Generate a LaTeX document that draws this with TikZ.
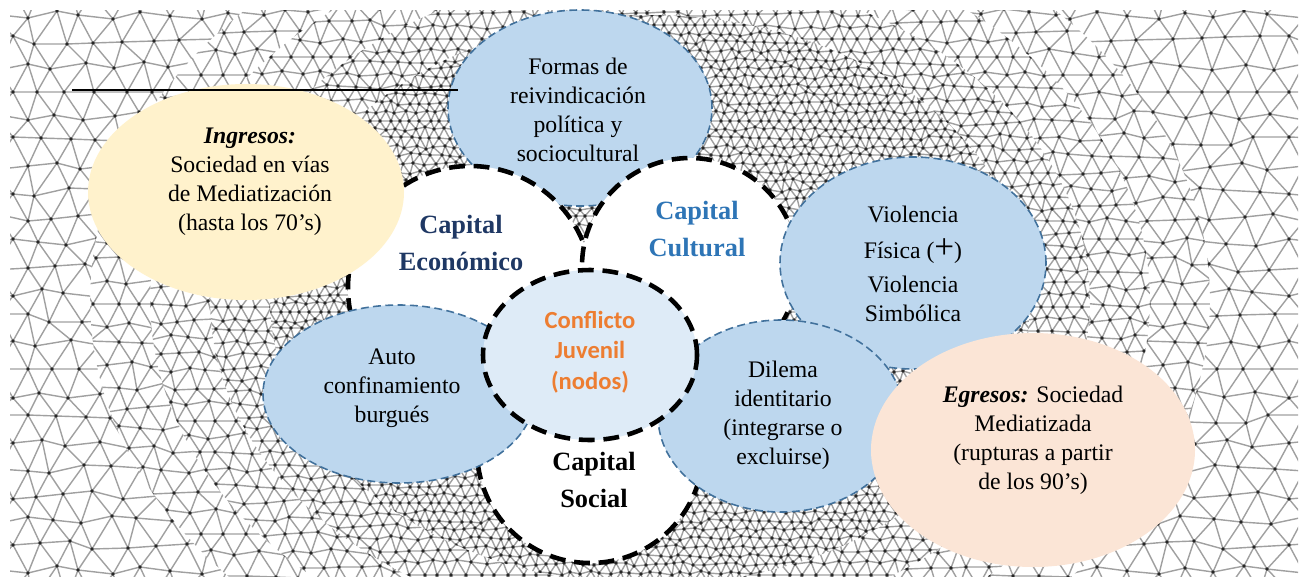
\documentclass[tikz,border=0pt]{standalone}
\usepackage{fontspec}
\setmainfont{Liberation Serif}
\newfontfamily\calibri{Carlito}
\usetikzlibrary{shapes.geometric}

\definecolor{blobblue}{HTML}{BDD7EE}
\definecolor{blobedge}{HTML}{41719C}
\definecolor{corefill}{HTML}{DEEBF7}
\definecolor{ingfill}{HTML}{FFF2CC}
\definecolor{egrfill}{HTML}{FBE5D6}
\definecolor{econblue}{HTML}{1F3864}
\definecolor{cultblue}{HTML}{2E75B6}
\definecolor{nodeorange}{HTML}{ED7D31}
\definecolor{meshgray}{HTML}{A0A0A0}

% jittered triangular mesh, integer arithmetic only (pixel units)
\newif\ifmeshvis
\newcommand\meshrand[1]{((#1)-((#1)-5)/11*11)}
% vertex hidden if well inside one of the bubbles
\newcommand\meshin[4]{%
  \ifnum\numexpr((\meshx-#1)*100/#3)*((\meshx-#1)*100/#3)+((\meshy-#2)*100/#4)*((\meshy-#2)*100/#4)\relax<8800 \meshvisfalse\fi}
\newcommand\meshvertex[2]{%
  \edef\mi{\the\numexpr#1+2\relax}\edef\mj{\the\numexpr#2\relax}%
  \edef\meshx{\the\numexpr\mo+(\mi-2)*\ms+\ifodd\mj\space\ms/2\else0\fi+\ms*(\meshrand{\mi*37+\mj*71+\mi*\mj*13+\mi*\mi*7}-5)/33\relax}%
  \edef\meshy{\the\numexpr-10+\mj*\ms*87/100+\ms*(\meshrand{\mi*53+\mj*29+\mi*\mj*17+\mj*\mj*11}-5)/33\relax}%
  \meshvistrue
  \edef\meshq{\the\numexpr(\meshx-650)*(\meshx-650)/16+(\meshy-300)*(\meshy-300)/9\relax}%
  \ifnum\meshq<\mlo\relax\meshvisfalse\fi
  \ifnum\meshq>\mhi\relax\meshvisfalse\fi
  \ifmeshvis
    \meshin{580}{108}{132}{98}\meshin{470}{288}{122}{122}\meshin{690}{266}{108}{108}%
    \meshin{590}{450}{113}{113}\meshin{246}{192}{158}{108}\meshin{913}{263}{133}{106}%
    \meshin{399}{394}{136}{89}\meshin{781}{416}{123}{96}\meshin{1033}{450}{162}{117}%
    \meshin{590}{355}{107}{85}%
  \fi
}
\newcommand\meshlink[2]{%
  \meshvertex{#1}{#2}%
  \ifmeshvis\def\bact{1}\else\def\bact{0}\fi
  \ifnum\numexpr\aact+\bact\relax>0
    \xdef\meshpath{\unexpanded\expandafter{\meshpath}(\ax,\ay)--(\meshx,\meshy)}%
  \fi
}
% #1 spacing, #2 left x, #3 last column, #4 last row, #5-#6 band limits
\newcommand\meshgrid[6]{%
  \def\ms{#1}\def\mo{#2}\def\mlo{#5}\def\mhi{#6}%
  \foreach \j in {0,...,#4}{%
    \gdef\meshpath{}\gdef\meshdots{}%
    \foreach \i in {0,...,#3}{%
      \meshvertex{\i}{\j}%
      \edef\ax{\meshx}\edef\ay{\meshy}%
      \ifmeshvis\def\aact{1}%
        \xdef\meshdots{\unexpanded\expandafter{\meshdots}(\ax,\ay) circle[radius=1.05pt]}%
      \else\def\aact{0}\fi
      \meshlink{\i+1}{\j}%
      \ifodd\j\relax\meshlink{\i}{\j+1}\meshlink{\i+1}{\j+1}%
      \else\meshlink{\i}{\j+1}\meshlink{\i-1}{\j+1}\fi
    }%
    \draw[meshline] \meshpath;
    \fill[meshdot] \meshdots;
  }%
}

\begin{document}
\begin{tikzpicture}[x=0.02cm, y=-0.02cm,
    meshline/.style={meshgray, line width=0.8pt},
    meshdot/.style={black!85},
    dims/.style 2 args={minimum width=#1*0.02cm, minimum height=#2*0.02cm},
    blob/.style={ellipse, draw=blobedge, fill=blobblue, line width=0.9pt,
        dash pattern=on 4.5pt off 2.5pt, inner sep=0},
    capital/.style={circle, draw=black, fill=white, line width=2.6pt,
        dash pattern=on 9pt off 5pt, inner sep=0},
    period/.style={ellipse, draw=none, inner sep=0},
    txt/.style={align=center, inner sep=0, font=\fontsize{13.5}{16.5}\selectfont},
    captxt/.style={align=center, inner sep=0, font=\fontsize{15}{21}\selectfont},
    coretxt/.style={align=center, inner sep=0, text=nodeorange,
        font=\calibri\bfseries\fontsize{14}{17.5}\selectfont}]

    \useasboundingbox (0,0) rectangle (1307,582);

    % mesh background, denser around the centre, one band per spacing
    \begin{scope}
        \clip (10,10) rectangle (1298,576);
        \begin{scope}
            \clip (650,300) ellipse [x radius=7.6cm, y radius=5.7cm];
            \meshgrid{10}{265}{77}{69}{-1}{10400}
        \end{scope}
        \begin{scope}
            \clip (650,300) ellipse [x radius=8.8cm, y radius=6.6cm]
                (650,300) ellipse [x radius=-7.6cm, y radius=5.7cm];
            \meshgrid{14}{200}{64}{50}{7700}{13900}
        \end{scope}
        \begin{scope}
            \clip (650,300) ellipse [x radius=10cm, y radius=7.5cm]
                (650,300) ellipse [x radius=-8.8cm, y radius=6.6cm];
            \meshgrid{19}{140}{54}{37}{10300}{18000}
        \end{scope}
        \begin{scope}
            \clip (650,300) ellipse [x radius=11.2cm, y radius=8.4cm]
                (650,300) ellipse [x radius=-10cm, y radius=7.5cm];
            \meshgrid{24}{80}{48}{29}{13300}{22500}
        \end{scope}
        \begin{scope}
            \clip (0,0) -- (1307,0) -- (1307,582) -- (0,582) -- cycle
                (650,300) ellipse [x radius=11.2cm, y radius=8.4cm];
            \meshgrid{29}{-20}{46}{24}{16700}{99999999}
        \end{scope}
    \end{scope}

    % top bubble
    \node[blob, dims={264}{196}] (formas) at (580,108) {};
    \node[txt] (formas-t) at (578,110)
        {Formas de\\ reivindicación\\ política y\\ sociocultural};

    % the three capitals
    \node[capital, dims={244}{244}] (econ) at (470,288) {};
    \node[captxt, text=econblue] (econ-t) at (461,243)
        {\textbf{Capital}\\ \textbf{Económico}};
    \node[capital, dims={216}{216}] (cult) at (690,266) {};
    \node[captxt, text=cultblue] (cult-t) at (697,229)
        {\textbf{Capital}\\ \textbf{Cultural}};
    \node[capital, dims={226}{226}] (social) at (590,450) {};
    \node[captxt] (social-t) at (594,480) {\textbf{Capital}\\ \textbf{Social}};

    % ingresos / egresos
    \node[period, fill=ingfill, dims={316}{216}] (ingresos) at (246,192) {};
    \node[txt] (ingresos-t) at (250,182)
        {\textbf{\textit{Ingresos:}}\\ Sociedad en vías\\ de Mediatización\\ (hasta los 70’s)};

    % side bubbles
    \node[blob, dims={266}{212}] (violencia) at (913,263) {};
    \node[txt] (violencia-t) at (913,264)
        {Violencia\\[4pt] Física ({\fontsize{20}{16}\selectfont +})\\[3pt] Violencia\\ Simbólica};
    \node[blob, dims={272}{178}] (auto) at (399,394) {};
    \node[txt] (auto-t) at (392,388) {Auto\\ confinamiento\\ burgués};
    \node[blob, dims={246}{192}] (dilema) at (781,416) {};
    \node[txt] (dilema-t) at (783,415)
        {Dilema\\ identitario\\ (integrarse o\\ excluirse)};

    \node[period, fill=egrfill, dims={324}{234}] (egresos) at (1033,450) {};
    \node[txt] (egresos-t) at (1033,440)
        {\textbf{\textit{Egresos:}} Sociedad\\ Mediatizada\\ (rupturas a partir\\ de los 90’s)};

    % core
    \node[capital, ellipse, fill=corefill, dims={214}{170}] (core) at (590,355) {};
    \node[coretxt] (core-t) at (590,352) {Conflicto\\ Juvenil\\ (nodos)};

    % rule over the top left
    \coordinate (rule-l) at (72,90);
    \coordinate (rule-r) at (458,90);
    \draw[line width=1.1pt] (rule-l) -- (rule-r);
\end{tikzpicture}
\end{document}
